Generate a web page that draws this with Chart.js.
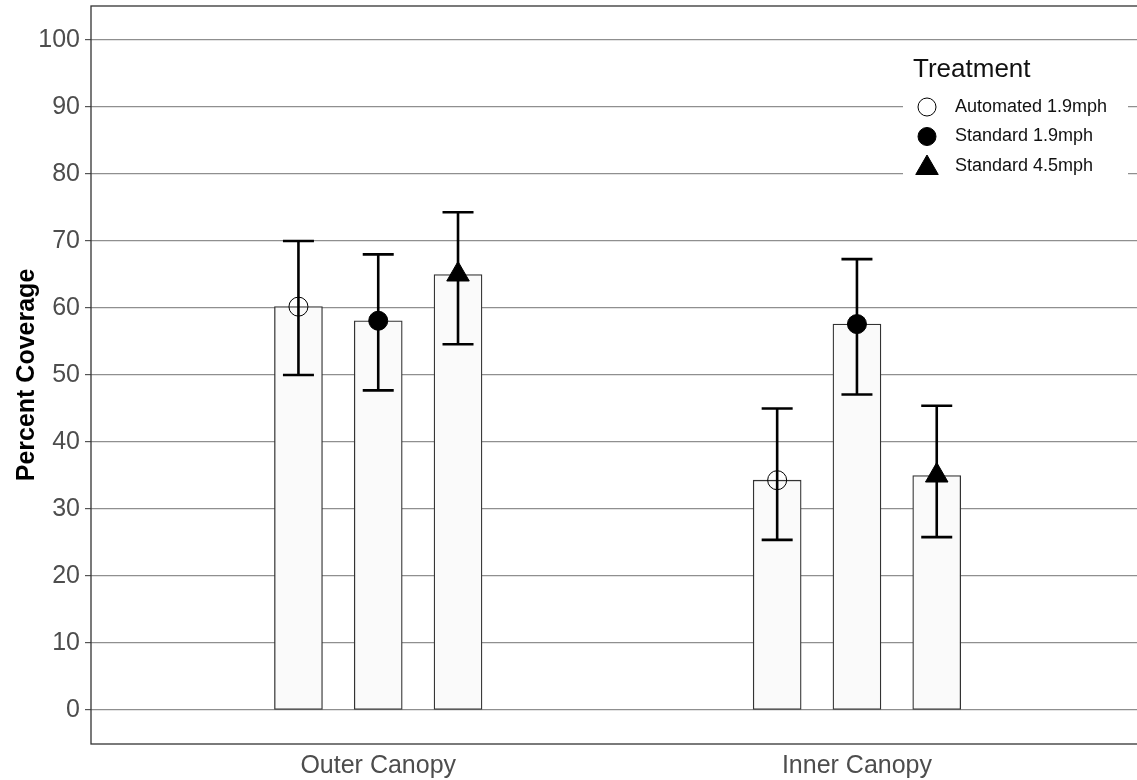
<!DOCTYPE html>
<html>
<head>
<meta charset="utf-8">
<script src="https://cdn.jsdelivr.net/npm/chart.js@4.4.1/dist/chart.umd.min.js"></script>
<style>
  html, body { margin: 0; padding: 0; background: #fff; }
  #wrap { width: 1137px; height: 780px; }
</style>
</head>
<body>
<div id="wrap"><canvas id="myChart"></canvas></div>
<script>
const categories = ['Outer Canopy', 'Inner Canopy'];
const treatments = ['Automated 1.9mph', 'Standard 1.9mph', 'Standard 4.5mph'];

// mean percent coverage per treatment (Outer, Inner)
const automated19 = [60.2, 34.3];
const standard19 = [58.1, 57.6];
const standard45 = [65.0, 35.0];

// error bar ends
const automated19Low = [50.0, 25.4];
const automated19High = [70.0, 45.0];
const standard19Low = [47.7, 47.1];
const standard19High = [68.0, 67.3];
const standard45Low = [54.6, 25.8];
const standard45High = [74.3, 45.4];

const yTicks = [0, 10, 20, 30, 40, 50, 60, 70, 80, 90, 100];

const means = [automated19, standard19, standard45];
const lows = [automated19Low, standard19Low, standard45Low];
const highs = [automated19High, standard19High, standard45High];

const dodge = 1 / 6;
const font = 'Liberation Sans, Arial, sans-serif';
Chart.defaults.font.family = font;

function xPos(i, j) {
    return i + 1 + (j - 1) * dodge;
}

let barData = [];
means.forEach((vals, j) => vals.forEach((v, i) => barData.push({ x: xPos(i, j), y: v })));
barData.sort((a, b) => a.x - b.x);

function pointData(j) {
    return means[j].map((v, i) => ({ x: xPos(i, j), y: v }));
}

const errorBars = {
    id: 'errorBars',
    afterDatasetDraw(chart, args) {
        if (args.index !== 0) return;
        const { ctx, scales: { x, y } } = chart;
        ctx.save();
        ctx.strokeStyle = '#000';
        ctx.lineWidth = 2.6;
        lows.forEach((lo, j) => lo.forEach((l, i) => {
            const px = x.getPixelForValue(xPos(i, j));
            const y1 = y.getPixelForValue(l);
            const y2 = y.getPixelForValue(highs[j][i]);
            ctx.beginPath();
            ctx.moveTo(px, y1); ctx.lineTo(px, y2);
            ctx.moveTo(px - 15.5, y1); ctx.lineTo(px + 15.5, y1);
            ctx.moveTo(px - 15.5, y2); ctx.lineTo(px + 15.5, y2);
            ctx.stroke();
        }));
        ctx.restore();
    }
};

function drawMarker(ctx, style, r, filled, cx, cy) {
    ctx.beginPath();
    if (style === 'triangle') {
        ctx.moveTo(cx, cy - r);
        ctx.lineTo(cx + r * Math.sin(Math.PI * 2 / 3), cy - r * Math.cos(Math.PI * 2 / 3));
        ctx.lineTo(cx + r * Math.sin(Math.PI * 4 / 3), cy - r * Math.cos(Math.PI * 4 / 3));
        ctx.closePath();
    } else {
        ctx.arc(cx, cy, r, 0, Math.PI * 2);
    }
    if (filled) { ctx.fillStyle = '#000'; ctx.fill(); }
    ctx.lineWidth = 1;
    ctx.strokeStyle = '#000';
    ctx.stroke();
}

const panel = {
    id: 'panel',
    beforeDraw(chart) {
        const ctx = chart.ctx;
        ctx.save();
        ctx.fillStyle = '#fff';
        ctx.fillRect(0, 0, chart.width, chart.height);
        ctx.restore();
    },
    afterDraw(chart) {
        const { ctx, chartArea: a } = chart;
        ctx.save();
        ctx.strokeStyle = '#333';
        ctx.lineWidth = 1.3;
        ctx.strokeRect(a.left, a.top, a.right - a.left + 5, a.bottom - a.top);

        // legend
        const lx = a.right - 234, ly = a.top + 38;
        ctx.fillStyle = '#fff';
        ctx.fillRect(lx, ly, 225, 144);
        ctx.fillStyle = '#111';
        ctx.textBaseline = 'middle';
        ctx.textAlign = 'left';
        ctx.font = '26px ' + font;
        ctx.fillText('Treatment', lx + 10, ly + 26);
        ctx.font = '18px ' + font;
        chart.data.datasets.slice(1).forEach((ds, k) => {
            const cy = ly + 63 + k * 29.5;
            drawMarker(ctx, ds.pointStyle, ds.pointStyle === 'triangle' ? 13 : 9, ds.backgroundColor === '#000', lx + 24, cy + (ds.pointStyle === 'triangle' ? 2 : 0));
            ctx.fillStyle = '#111';
            ctx.fillText(ds.label, lx + 52, cy);
        });
        ctx.restore();
    }
};

new Chart(document.getElementById('myChart'), {
    type: 'bar',
    data: {
        datasets: [{
            type: 'bar',
            label: 'Mean',
            data: barData,
            backgroundColor: '#fafafa',
            borderColor: '#333',
            borderWidth: 1.3,
            borderSkipped: false,
            barThickness: 48,
            order: 1
        }, {
            type: 'scatter',
            label: treatments[0],
            data: pointData(0),
            pointStyle: 'circle',
            radius: 9.5,
            backgroundColor: 'rgba(0,0,0,0)',
            borderColor: '#000',
            borderWidth: 1,
            order: 0
        }, {
            type: 'scatter',
            label: treatments[1],
            data: pointData(1),
            pointStyle: 'circle',
            radius: 9.5,
            backgroundColor: '#000',
            borderColor: '#000',
            borderWidth: 1,
            order: 0
        }, {
            type: 'scatter',
            label: treatments[2],
            data: pointData(2),
            pointStyle: 'triangle',
            radius: 13,
            backgroundColor: '#000',
            borderColor: '#000',
            borderWidth: 1,
            order: 0
        }]
    },
    options: {
        responsive: true,
        maintainAspectRatio: false,
        animation: false,
        layout: { autoPadding: false, padding: { top: 6, left: 0, right: 0, bottom: 0 } },
        plugins: {
            legend: { display: false },
            tooltip: { enabled: false }
        },
        scales: {
            x: {
                type: 'linear',
                min: 0.4,
                max: 2.585,
                offset: false,
                afterBuildTicks: s => { s.ticks = categories.map((c, i) => ({ value: i + 1 })); },
                afterFit: s => { s.height = 36; s.paddingLeft = 0; s.paddingRight = 0; },
                grid: { display: false, drawTicks: false },
                border: { display: false },
                ticks: {
                    callback: v => categories[v - 1],
                    color: '#4d4d4d',
                    font: { size: 25 },
                    padding: 7,
                    maxRotation: 0,
                    autoSkip: false
                }
            },
            y: {
                min: -5.07,
                max: 105.07,
                afterBuildTicks: s => { s.ticks = yTicks.map(v => ({ value: v })); },
                afterFit: s => { s.width = 91; s.paddingTop = 0; s.paddingBottom = 0; },
                grid: { color: '#8f8f8f', lineWidth: 1.2, tickLength: 6, tickColor: '#555', drawTicks: true },
                border: { display: false },
                ticks: { color: '#4d4d4d', font: { size: 25 }, padding: 5 },
                title: {
                    display: true,
                    text: 'Percent Coverage',
                    color: '#000',
                    font: { size: 25, weight: 'bold' },
                    padding: { top: 12, bottom: 0 }
                }
            }
        }
    },
    plugins: [panel, errorBars]
});
</script>
</body>
</html>
